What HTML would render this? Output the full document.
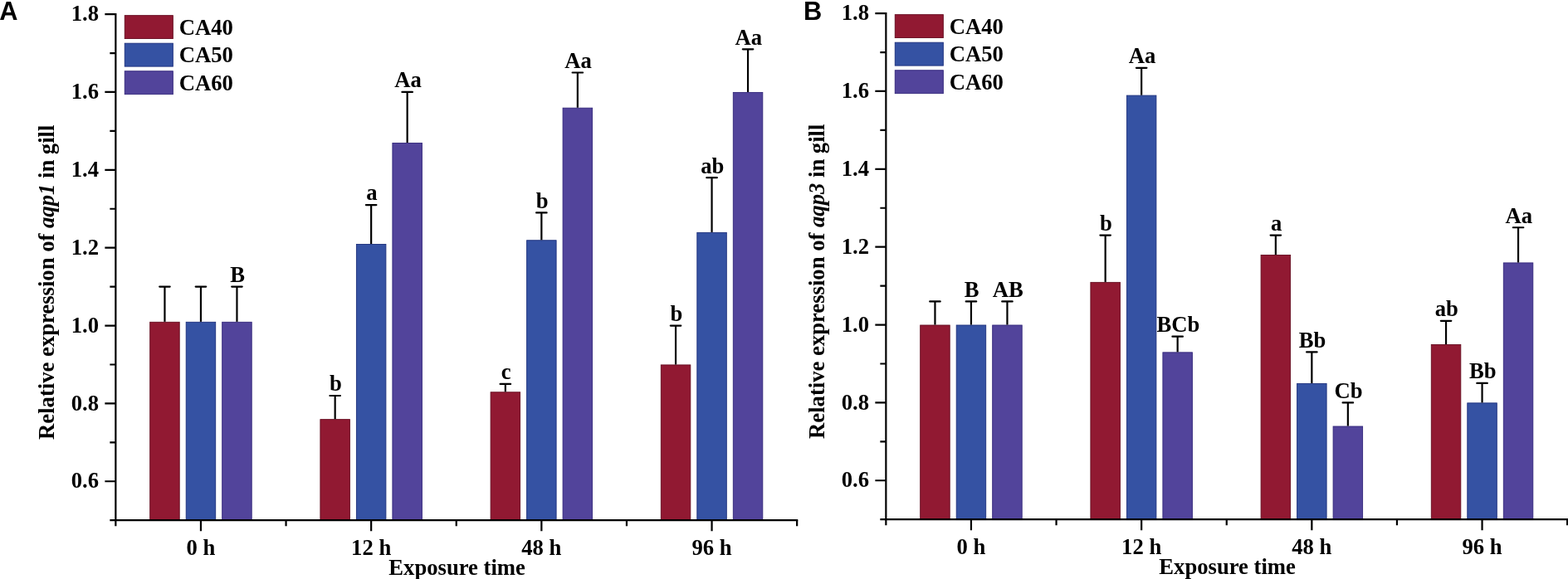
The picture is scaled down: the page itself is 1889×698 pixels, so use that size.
<!DOCTYPE html>
<html><head><meta charset="utf-8"><title>Relative expression of aqp1 and aqp3 in gill</title>
<style>
html,body{margin:0;padding:0;background:#fff;}
body{width:1889px;height:698px;overflow:hidden;}
svg{display:block;}
svg text{font-family:'Liberation Serif','Times New Roman',serif;font-weight:bold;font-size:26.67px;fill:#000;}
</style></head>
<body>
<svg width="1889" height="698" viewBox="0 0 1889 698">
<rect width="1889" height="698" fill="#fff"/>
<g transform="translate(0.00,0.00)">
<rect x="180.70" y="388.31" width="35.50" height="238.44" fill="#911932" stroke="#640b1f" stroke-width="0.9"/>
<path d="M198.45 387.86V345.62" stroke="#000" stroke-width="2.2" fill="none"/>
<path d="M192.20 345.62H204.70" stroke="#000" stroke-width="2.2" fill="none" stroke-linecap="round"/>
<rect x="224.20" y="388.31" width="35.50" height="238.44" fill="#3552A3" stroke="#1c2f7c" stroke-width="0.9"/>
<path d="M241.95 387.86V345.62" stroke="#000" stroke-width="2.2" fill="none"/>
<path d="M235.70 345.62H248.20" stroke="#000" stroke-width="2.2" fill="none" stroke-linecap="round"/>
<rect x="267.70" y="388.31" width="35.50" height="238.44" fill="#52449B" stroke="#32267a" stroke-width="0.9"/>
<path d="M285.45 387.86V345.62" stroke="#000" stroke-width="2.2" fill="none"/>
<path d="M279.20 345.62H291.70" stroke="#000" stroke-width="2.2" fill="none" stroke-linecap="round"/>
<text x="286.25" y="340.02" text-anchor="middle">B</text>
<rect x="385.90" y="505.63" width="35.50" height="121.12" fill="#911932" stroke="#640b1f" stroke-width="0.9"/>
<path d="M403.65 505.18V477.02" stroke="#000" stroke-width="2.2" fill="none"/>
<path d="M397.40 477.02H409.90" stroke="#000" stroke-width="2.2" fill="none" stroke-linecap="round"/>
<text x="404.45" y="471.42" text-anchor="middle">b</text>
<rect x="429.40" y="294.45" width="35.50" height="332.30" fill="#3552A3" stroke="#1c2f7c" stroke-width="0.9"/>
<path d="M447.15 294.00V247.07" stroke="#000" stroke-width="2.2" fill="none"/>
<path d="M440.90 247.07H453.40" stroke="#000" stroke-width="2.2" fill="none" stroke-linecap="round"/>
<text x="447.95" y="241.47" text-anchor="middle">a</text>
<rect x="472.90" y="172.43" width="35.50" height="454.32" fill="#52449B" stroke="#32267a" stroke-width="0.9"/>
<path d="M490.65 171.98V110.97" stroke="#000" stroke-width="2.2" fill="none"/>
<path d="M484.40 110.97H496.90" stroke="#000" stroke-width="2.2" fill="none" stroke-linecap="round"/>
<text x="491.45" y="105.37" text-anchor="middle">Aa</text>
<rect x="591.10" y="472.78" width="35.50" height="153.97" fill="#911932" stroke="#640b1f" stroke-width="0.9"/>
<path d="M608.85 472.33V462.95" stroke="#000" stroke-width="2.2" fill="none"/>
<path d="M602.60 462.95H615.10" stroke="#000" stroke-width="2.2" fill="none" stroke-linecap="round"/>
<text x="609.65" y="457.35" text-anchor="middle">c</text>
<rect x="634.60" y="289.75" width="35.50" height="337.00" fill="#3552A3" stroke="#1c2f7c" stroke-width="0.9"/>
<path d="M652.35 289.30V256.45" stroke="#000" stroke-width="2.2" fill="none"/>
<path d="M646.10 256.45H658.60" stroke="#000" stroke-width="2.2" fill="none" stroke-linecap="round"/>
<text x="653.15" y="250.85" text-anchor="middle">b</text>
<rect x="678.10" y="130.19" width="35.50" height="496.56" fill="#52449B" stroke="#32267a" stroke-width="0.9"/>
<path d="M695.85 129.74V87.51" stroke="#000" stroke-width="2.2" fill="none"/>
<path d="M689.60 87.51H702.10" stroke="#000" stroke-width="2.2" fill="none" stroke-linecap="round"/>
<text x="696.65" y="81.91" text-anchor="middle">Aa</text>
<rect x="796.30" y="439.93" width="35.50" height="186.82" fill="#911932" stroke="#640b1f" stroke-width="0.9"/>
<path d="M814.05 439.48V392.55" stroke="#000" stroke-width="2.2" fill="none"/>
<path d="M807.80 392.55H820.30" stroke="#000" stroke-width="2.2" fill="none" stroke-linecap="round"/>
<text x="814.85" y="386.95" text-anchor="middle">b</text>
<rect x="839.80" y="280.37" width="35.50" height="346.38" fill="#3552A3" stroke="#1c2f7c" stroke-width="0.9"/>
<path d="M857.55 279.92V214.22" stroke="#000" stroke-width="2.2" fill="none"/>
<path d="M851.30 214.22H863.80" stroke="#000" stroke-width="2.2" fill="none" stroke-linecap="round"/>
<text x="858.35" y="208.62" text-anchor="middle">ab</text>
<rect x="883.30" y="111.42" width="35.50" height="515.33" fill="#52449B" stroke="#32267a" stroke-width="0.9"/>
<path d="M901.05 110.97V59.35" stroke="#000" stroke-width="2.2" fill="none"/>
<path d="M894.80 59.35H907.30" stroke="#000" stroke-width="2.2" fill="none" stroke-linecap="round"/>
<text x="901.85" y="53.75" text-anchor="middle">Aa</text>
<path d="M139.35 17.11V627.20H960.15" stroke="#000" stroke-width="2.2" fill="none" stroke-linecap="square"/>
<path d="M139.35 627.20H132.35M139.35 580.27H126.35M139.35 533.34H132.35M139.35 486.41H126.35M139.35 439.48H132.35M139.35 392.55H126.35M139.35 345.62H132.35M139.35 298.69H126.35M139.35 251.76H132.35M139.35 204.83H126.35M139.35 157.90H132.35M139.35 110.97H126.35M139.35 64.04H132.35M139.35 17.11H126.35M139.35 627.20V634.20M241.95 627.20V640.20M344.55 627.20V634.20M447.15 627.20V640.20M549.75 627.20V634.20M652.35 627.20V640.20M754.95 627.20V634.20M857.55 627.20V640.20M960.15 627.20V634.20" stroke="#000" stroke-width="2.2" fill="none"/>
<text x="119.0" y="588.47" text-anchor="end">0.6</text>
<text x="119.0" y="494.61" text-anchor="end">0.8</text>
<text x="119.0" y="400.75" text-anchor="end">1.0</text>
<text x="119.0" y="306.89" text-anchor="end">1.2</text>
<text x="119.0" y="213.03" text-anchor="end">1.4</text>
<text x="119.0" y="119.17" text-anchor="end">1.6</text>
<text x="119.0" y="25.31" text-anchor="end">1.8</text>
<text x="241.95" y="669.4" text-anchor="middle">0 h</text>
<text x="447.15" y="669.4" text-anchor="middle">12 h</text>
<text x="652.35" y="669.4" text-anchor="middle">48 h</text>
<text x="857.55" y="669.4" text-anchor="middle">96 h</text>
<text x="550.6" y="693.3" text-anchor="middle">Exposure time</text>
<text transform="translate(65.2,340.25) rotate(-90)" text-anchor="middle">Relative expression of <tspan font-style="italic">aqp1</tspan> in gill</text>
<rect x="150.25" y="18.65" width="58.1" height="27.9" fill="#911932" stroke="#640b1f" stroke-width="0.9"/>
<text x="215.7" y="41.50">CA40</text>
<rect x="150.25" y="52.20" width="58.1" height="27.9" fill="#3552A3" stroke="#1c2f7c" stroke-width="0.9"/>
<text x="215.7" y="75.05">CA50</text>
<rect x="150.25" y="85.75" width="58.1" height="27.9" fill="#52449B" stroke="#32267a" stroke-width="0.9"/>
<text x="215.7" y="108.60">CA60</text>
</g>
<g transform="translate(928.00,-1.00)">
<rect x="180.70" y="393.00" width="35.50" height="233.75" fill="#911932" stroke="#640b1f" stroke-width="0.9"/>
<path d="M198.45 392.55V364.39" stroke="#000" stroke-width="2.2" fill="none"/>
<path d="M192.20 364.39H204.70" stroke="#000" stroke-width="2.2" fill="none" stroke-linecap="round"/>
<rect x="224.20" y="393.00" width="35.50" height="233.75" fill="#3552A3" stroke="#1c2f7c" stroke-width="0.9"/>
<path d="M241.95 392.55V364.39" stroke="#000" stroke-width="2.2" fill="none"/>
<path d="M235.70 364.39H248.20" stroke="#000" stroke-width="2.2" fill="none" stroke-linecap="round"/>
<text x="242.75" y="358.79" text-anchor="middle">B</text>
<rect x="267.70" y="393.00" width="35.50" height="233.75" fill="#52449B" stroke="#32267a" stroke-width="0.9"/>
<path d="M285.45 392.55V364.39" stroke="#000" stroke-width="2.2" fill="none"/>
<path d="M279.20 364.39H291.70" stroke="#000" stroke-width="2.2" fill="none" stroke-linecap="round"/>
<text x="286.25" y="358.79" text-anchor="middle">AB</text>
<rect x="385.90" y="341.38" width="35.50" height="285.37" fill="#911932" stroke="#640b1f" stroke-width="0.9"/>
<path d="M403.65 340.93V284.61" stroke="#000" stroke-width="2.2" fill="none"/>
<path d="M397.40 284.61H409.90" stroke="#000" stroke-width="2.2" fill="none" stroke-linecap="round"/>
<text x="404.45" y="279.01" text-anchor="middle">b</text>
<rect x="429.40" y="116.11" width="35.50" height="510.64" fill="#3552A3" stroke="#1c2f7c" stroke-width="0.9"/>
<path d="M447.15 115.66V82.81" stroke="#000" stroke-width="2.2" fill="none"/>
<path d="M440.90 82.81H453.40" stroke="#000" stroke-width="2.2" fill="none" stroke-linecap="round"/>
<text x="447.95" y="77.21" text-anchor="middle">Aa</text>
<rect x="472.90" y="425.85" width="35.50" height="200.90" fill="#52449B" stroke="#32267a" stroke-width="0.9"/>
<path d="M490.65 425.40V406.63" stroke="#000" stroke-width="2.2" fill="none"/>
<path d="M484.40 406.63H496.90" stroke="#000" stroke-width="2.2" fill="none" stroke-linecap="round"/>
<text x="491.45" y="401.03" text-anchor="middle">BCb</text>
<rect x="591.10" y="308.53" width="35.50" height="318.22" fill="#911932" stroke="#640b1f" stroke-width="0.9"/>
<path d="M608.85 308.08V284.61" stroke="#000" stroke-width="2.2" fill="none"/>
<path d="M602.60 284.61H615.10" stroke="#000" stroke-width="2.2" fill="none" stroke-linecap="round"/>
<text x="609.65" y="279.01" text-anchor="middle">a</text>
<rect x="634.60" y="463.40" width="35.50" height="163.35" fill="#3552A3" stroke="#1c2f7c" stroke-width="0.9"/>
<path d="M652.35 462.95V425.40" stroke="#000" stroke-width="2.2" fill="none"/>
<path d="M646.10 425.40H658.60" stroke="#000" stroke-width="2.2" fill="none" stroke-linecap="round"/>
<text x="653.15" y="419.80" text-anchor="middle">Bb</text>
<rect x="678.10" y="515.02" width="35.50" height="111.73" fill="#52449B" stroke="#32267a" stroke-width="0.9"/>
<path d="M695.85 514.57V486.41" stroke="#000" stroke-width="2.2" fill="none"/>
<path d="M689.60 486.41H702.10" stroke="#000" stroke-width="2.2" fill="none" stroke-linecap="round"/>
<text x="696.65" y="480.81" text-anchor="middle">Cb</text>
<rect x="796.30" y="416.47" width="35.50" height="210.28" fill="#911932" stroke="#640b1f" stroke-width="0.9"/>
<path d="M814.05 416.02V387.86" stroke="#000" stroke-width="2.2" fill="none"/>
<path d="M807.80 387.86H820.30" stroke="#000" stroke-width="2.2" fill="none" stroke-linecap="round"/>
<text x="814.85" y="382.26" text-anchor="middle">ab</text>
<rect x="839.80" y="486.86" width="35.50" height="139.89" fill="#3552A3" stroke="#1c2f7c" stroke-width="0.9"/>
<path d="M857.55 486.41V462.95" stroke="#000" stroke-width="2.2" fill="none"/>
<path d="M851.30 462.95H863.80" stroke="#000" stroke-width="2.2" fill="none" stroke-linecap="round"/>
<text x="858.35" y="457.35" text-anchor="middle">Bb</text>
<rect x="883.30" y="317.91" width="35.50" height="308.84" fill="#52449B" stroke="#32267a" stroke-width="0.9"/>
<path d="M901.05 317.46V275.23" stroke="#000" stroke-width="2.2" fill="none"/>
<path d="M894.80 275.23H907.30" stroke="#000" stroke-width="2.2" fill="none" stroke-linecap="round"/>
<text x="901.85" y="269.62" text-anchor="middle">Aa</text>
<path d="M139.35 17.11V627.20H960.15" stroke="#000" stroke-width="2.2" fill="none" stroke-linecap="square"/>
<path d="M139.35 627.20H132.35M139.35 580.27H126.35M139.35 533.34H132.35M139.35 486.41H126.35M139.35 439.48H132.35M139.35 392.55H126.35M139.35 345.62H132.35M139.35 298.69H126.35M139.35 251.76H132.35M139.35 204.83H126.35M139.35 157.90H132.35M139.35 110.97H126.35M139.35 64.04H132.35M139.35 17.11H126.35M139.35 627.20V634.20M241.95 627.20V640.20M344.55 627.20V634.20M447.15 627.20V640.20M549.75 627.20V634.20M652.35 627.20V640.20M754.95 627.20V634.20M857.55 627.20V640.20M960.15 627.20V634.20" stroke="#000" stroke-width="2.2" fill="none"/>
<text x="119.0" y="588.47" text-anchor="end">0.6</text>
<text x="119.0" y="494.61" text-anchor="end">0.8</text>
<text x="119.0" y="400.75" text-anchor="end">1.0</text>
<text x="119.0" y="306.89" text-anchor="end">1.2</text>
<text x="119.0" y="213.03" text-anchor="end">1.4</text>
<text x="119.0" y="119.17" text-anchor="end">1.6</text>
<text x="119.0" y="25.31" text-anchor="end">1.8</text>
<text x="241.95" y="669.4" text-anchor="middle">0 h</text>
<text x="447.15" y="669.4" text-anchor="middle">12 h</text>
<text x="652.35" y="669.4" text-anchor="middle">48 h</text>
<text x="857.55" y="669.4" text-anchor="middle">96 h</text>
<text x="550.6" y="693.3" text-anchor="middle">Exposure time</text>
<text transform="translate(65.2,340.25) rotate(-90)" text-anchor="middle">Relative expression of <tspan font-style="italic">aqp3</tspan> in gill</text>
<rect x="150.25" y="18.65" width="58.1" height="27.9" fill="#911932" stroke="#640b1f" stroke-width="0.9"/>
<text x="215.7" y="41.50">CA40</text>
<rect x="150.25" y="52.20" width="58.1" height="27.9" fill="#3552A3" stroke="#1c2f7c" stroke-width="0.9"/>
<text x="215.7" y="75.05">CA50</text>
<rect x="150.25" y="85.75" width="58.1" height="27.9" fill="#52449B" stroke="#32267a" stroke-width="0.9"/>
<text x="215.7" y="108.60">CA60</text>
</g>
<text transform="translate(-0.7,24)" style="font-family:'Liberation Sans',Arial,sans-serif;font-size:30.8px">A</text>
<text transform="translate(968,24)" style="font-family:'Liberation Sans',Arial,sans-serif;font-size:30.8px">B</text>
</svg>
</body></html>
